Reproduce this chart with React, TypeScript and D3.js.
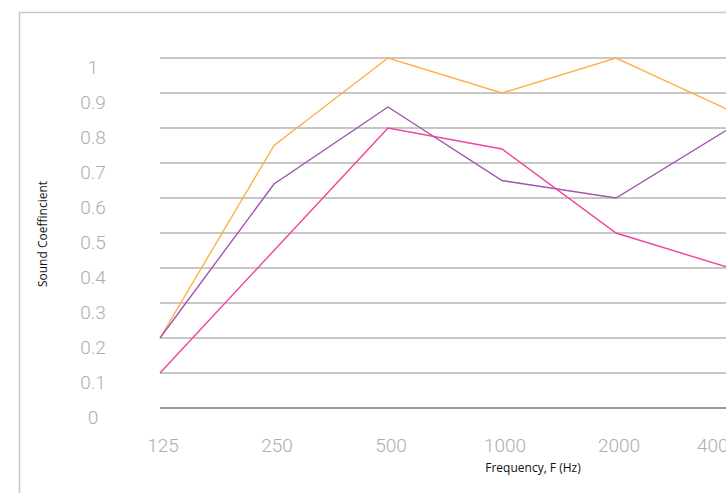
import React from "react";
import * as d3 from "d3";

const frequencies = ["125", "250", "500", "1000", "2000", "4000"];
const yTicks = [0, 0.1, 0.2, 0.3, 0.4, 0.5, 0.6, 0.7, 0.8, 0.9, 1];
const seriesOrange = [0.2, 0.75, 1.0, 0.9, 1.0, 0.85];
const seriesPurple = [0.2, 0.64, 0.86, 0.65, 0.6, 0.8];
const seriesPink = [0.1, 0.45, 0.8, 0.74, 0.5, 0.4];

const series = [
  { name: "orange", values: seriesOrange, color: "#fdb04a" },
  { name: "purple", values: seriesPurple, color: "#a254b0" },
  { name: "pink", values: seriesPink, color: "#f0449c" },
];

const W = 726;
const H = 493;

export default function App() {
  const x = d3.scalePoint<string>().domain(frequencies).range([160, 730]);
  const y = d3.scaleLinear().domain([0, 1]).range([408, 58]);
  const line = d3
    .line<number>()
    .x((_, i) => x(frequencies[i]) as number)
    .y((d) => y(d));

  return (
    <svg
      width={W}
      height={H}
      style={{ position: "absolute", left: 0, top: 0, background: "#fff" }}
    >
      <rect
        x={19.5}
        y={12.5}
        width={800}
        height={600}
        fill="#fff"
        stroke="#c8c8c8"
        strokeWidth={1.5}
      />
      {yTicks.map((t) => (
        <g key={t}>
          <line
            x1={160}
            x2={W + 20}
            y1={y(t)}
            y2={y(t)}
            stroke={t === 0 ? "#9a9a9a" : "#b4b4b4"}
            strokeWidth={t === 0 ? 2 : 1.3}
          />
          <text
            x={93}
            y={y(t) + 9}
            textAnchor="middle"
            dominantBaseline="central"
            fontFamily="Roboto, sans-serif"
            fontWeight={300}
            fontSize={19}
            fill="#adadad"
          >
            {d3.format("~g")(t)}
          </text>
        </g>
      ))}
      {frequencies.map((f) => (
        <text
          key={f}
          x={Math.min((x(f) as number) + 3, W - 8)}
          y={452}
          textAnchor="middle"
          fontFamily="Roboto, sans-serif"
          fontWeight={300}
          fontSize={19}
          fill="#adadad"
        >
          {f}
        </text>
      ))}
      {series.map((s) => (
        <path
          key={s.name}
          d={line(s.values) || ""}
          fill="none"
          stroke={s.color}
          strokeWidth={1.4}
          strokeLinejoin="miter"
        />
      ))}
      <text
        x={533}
        y={472}
        textAnchor="middle"
        fontFamily="'Open Sans', sans-serif"
        fontSize={12}
        fill="#111"
      >
        Frequency, F (Hz)
      </text>
      <text
        transform={`translate(47, 234) rotate(-90)`}
        textAnchor="middle"
        fontFamily="'Open Sans', sans-serif"
        fontSize={12}
        fill="#111"
      >
        Sound Coeffincient
      </text>
    </svg>
  );
}
